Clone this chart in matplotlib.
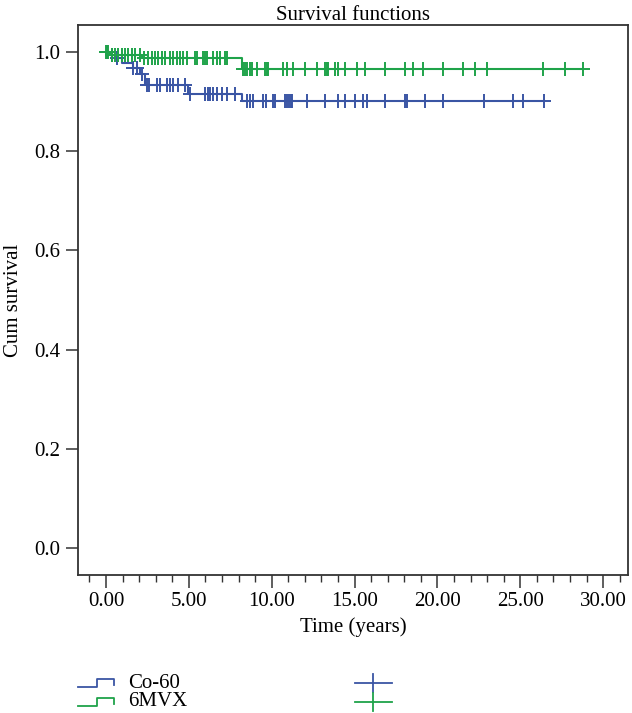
import numpy as np
import matplotlib
matplotlib.use('Agg')
import matplotlib.pyplot as plt
from matplotlib.lines import Line2D
from matplotlib.ticker import MultipleLocator, FormatStrFormatter

plt.rcParams['font.family'] = ['Liberation Serif', 'DejaVu Serif']

# Kaplan-Meier steps (time in years, cumulative survival)
co60_times = [0.0, 0.24, 0.54, 0.97, 1.63, 2.05, 2.35, 4.95, 8.2]
co60_surv = [1.0, 0.994, 0.988, 0.978, 0.967, 0.955, 0.933, 0.915, 0.900]
co60_end = 26.45
co60_censor = [0.05, 0.36, 0.66, 1.63, 1.87, 2.17, 2.45, 2.6, 3.08, 3.26, 3.68,
               3.86, 4.04, 4.35, 4.77, 5.07, 5.97, 6.16, 6.28, 6.46, 6.70, 7.00,
               7.30, 7.79, 8.51, 8.69, 8.87, 9.47, 9.66, 10.08, 10.2, 10.8,
               10.92, 11.04, 11.16, 11.25, 12.13, 13.22, 14.0, 14.4, 15.0, 15.5,
               15.75, 16.84, 18.04, 18.17, 19.25, 20.34, 22.8, 24.56, 25.17, 26.45]

mvx_times = [0.0, 0.24, 2.15, 8.2]
mvx_surv = [1.0, 0.994, 0.987, 0.966]
mvx_end = 28.8
mvx_censor = [0.0, 0.12, 0.36, 0.54, 0.72, 0.97, 1.15, 1.33, 1.57, 1.75, 2.05,
              2.3, 2.53, 2.78, 2.96, 3.14, 3.38, 3.56, 3.86, 4.04, 4.28, 4.47,
              4.65, 4.89, 5.37, 5.49, 5.85, 5.97, 6.1, 6.46, 6.70, 6.88, 7.18,
              7.3, 8.27, 8.39, 8.51, 8.69, 8.81, 9.11, 9.6, 9.72, 9.78, 10.68,
              10.92, 11.29, 12.0, 12.73, 13.22, 13.34, 13.4, 13.82, 14.0, 14.42,
              15.15, 15.63, 16.84, 18.04, 18.53, 19.13, 20.34, 21.55, 22.27,
              22.99, 26.37, 27.7, 28.8]

labels = ['Co-60', '6MVX']
colors = ['#3A55A4', '#1FA34A']

fig = plt.figure(figsize=(6.32, 7.13), dpi=100)
ax = fig.add_axes([0.1234, 0.1935, 0.8703, 0.7714])

groups = [(co60_times, co60_surv, co60_end, co60_censor),
          (mvx_times, mvx_surv, mvx_end, mvx_censor)]
for (t, s, end, cens), col in zip(groups, colors):
    tt = np.array(t + [end])
    ss = np.array(s + [s[-1]])
    ax.step(tt, ss, where='post', color=col, linewidth=1.5)
    idx = np.searchsorted(np.array(t), np.array(cens), side='right') - 1
    ax.plot(cens, np.array(s)[idx], linestyle='none', marker='+',
            markersize=10, markeredgewidth=1.4, color=col)

ax.set_xlim(-1.69, 31.5)
ax.set_ylim(-0.054, 1.054)
ax.xaxis.set_major_locator(MultipleLocator(5))
ax.xaxis.set_minor_locator(MultipleLocator(1))
ax.xaxis.set_major_formatter(FormatStrFormatter('%.2f'))
ax.yaxis.set_major_locator(MultipleLocator(0.2))
ax.yaxis.set_major_formatter(FormatStrFormatter('%.1f'))
ax.tick_params(axis='both', which='major', labelsize=15, length=9,
               width=1.1, color='#333333', direction='out')
ax.tick_params(axis='x', which='minor', length=5, width=1.0, color='#333333')
for sp in ax.spines.values():
    sp.set_color('#333333')
    sp.set_linewidth(1.3)

ax.set_xlabel('Time (years)', fontsize=15, labelpad=4)
ax.set_ylabel('Cum survival', fontsize=15, labelpad=8)
ax.set_title('Survival functions', fontsize=15, pad=3)

# legend drawn below the axes
rows_y = [1 - 683 / 713, 1 - 702 / 713]
for lab, col, y in zip(labels, colors, rows_y):
    dy = 8 / 713
    xs = np.array([78, 97, 97, 114, 114]) / 632
    ys = np.array([y - dy / 2, y - dy / 2, y + dy / 2, y + dy / 2, y - dy / 4])
    fig.add_artist(Line2D(xs, ys, color=col, linewidth=1.3))
    fig.text(128 / 632, y, lab, fontsize=15, va='center', ha='left')
    # censor symbol: wide horizontal bar with a shorter vertical bar
    fig.add_artist(Line2D(np.array([355, 392]) / 632, [y, y],
                          color=col, linewidth=1.3))
    fig.add_artist(Line2D([373 / 632, 373 / 632],
                          [y - 9 / 713, y + 9 / 713], color=col, linewidth=1.3))

fig.savefig('out.png', dpi=100)
